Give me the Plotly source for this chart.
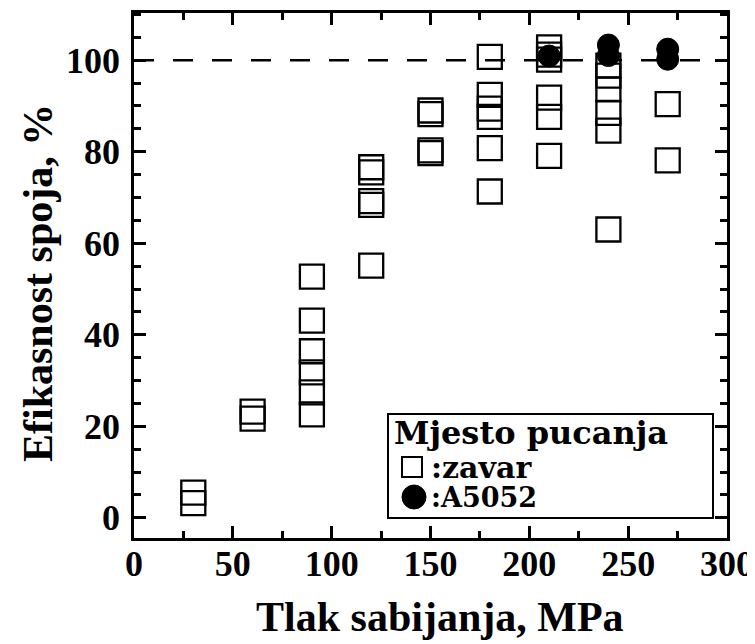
import plotly.graph_objects as go

# ---- data ----
zavar_x = [30, 30,
           60, 60,
           90, 90, 90, 90, 90, 90,
           120, 120, 120, 120, 120,
           150, 150, 150, 150,
           180, 180, 180, 180, 180, 180,
           210, 210, 210, 210, 210, 210,
           240, 240, 240, 240, 240, 240,
           270, 270]
zavar_y = [5.5, 3.2,
           23.2, 21.7,
           52.7, 43.1, 36.4, 31.8, 27.4, 22.6,
           76.6, 75.5, 69.2, 68.4, 55.1,
           89.0, 88.2, 80.3, 79.7,
           100.7, 92.4, 89.4, 87.6, 80.8, 71.3,
           102.8, 101.2, 100.1, 91.8, 87.6, 79.1,
           98.8, 96.6, 93.6, 88.5, 84.6, 63.0,
           90.4, 78.1]

a5052_x = [210, 240, 240, 270, 270]
a5052_y = [100.9, 103.3, 101.0, 102.4, 100.2]

reference_level = 100
x_tick_vals = [0, 50, 100, 150, 200, 250, 300]
y_tick_vals = [0, 20, 40, 60, 80, 100]

x_title = "Tlak sabijanja, MPa"
y_title = "Efikasnost spoja, %"
legend_title = "Mjesto pucanja"
legend_labels = [":zavar", ":A5052"]

FONT = "Liberation Serif, Times New Roman, serif"
LEG_FONT = "DejaVu Serif, serif"

# page body has an 8px margin; figure runs to the window edge
OFF = 8
W, H = 755 - OFF, 644 - OFF
# target plot area in window pixels: left 134, right 727, top 13, bottom 538
ML = 134 - OFF
MT = 13 - OFF
MR = W - (727 - OFF)
MB = H - (538 - OFF)
PW, PH = W - ML - MR, H - MT - MB


def px(x):
    """window pixel x -> paper coordinate"""
    return (x - OFF - ML) / PW


def py(y):
    """window pixel y -> paper coordinate"""
    return (H - MB - (y - OFF)) / PH


fig = go.Figure()

fig.add_trace(go.Scatter(
    x=zavar_x, y=zavar_y, mode="markers", name=legend_labels[0],
    marker=dict(symbol="square-open", size=24, color="black",
                line=dict(width=2.3, color="black")),
))
fig.add_trace(go.Scatter(
    x=a5052_x, y=a5052_y, mode="markers", name=legend_labels[1],
    marker=dict(symbol="circle", size=22, color="black",
                line=dict(width=1, color="black")),
))

fig.add_shape(type="line", xref="x domain", yref="y",
              x0=0, x1=1, y0=reference_level, y1=reference_level,
              line=dict(color="black", width=2.5, dash="20px,19px"),
              layer="below")

# legend box
fig.add_shape(type="rect", xref="paper", yref="paper",
              x0=px(388), x1=px(713), y0=py(518), y1=py(414),
              line=dict(color="black", width=2), fillcolor="white", layer="above")
# legend symbols
fig.add_shape(type="rect", xref="paper", yref="paper",
              x0=px(402), x1=px(422), y0=py(477), y1=py(457),
              line=dict(color="black", width=2), fillcolor="white", layer="above")
fig.add_shape(type="circle", xref="paper", yref="paper",
              x0=px(402), x1=px(426), y0=py(509), y1=py(485),
              line=dict(color="black", width=1), fillcolor="black", layer="above")

fig.add_annotation(text=legend_title, xref="paper", yref="paper",
                   x=px(392), y=py(433), xanchor="left", yanchor="middle",
                   showarrow=False,
                   font=dict(family=LEG_FONT, size=32, color="black", weight="bold"))
fig.add_annotation(text=legend_labels[0], xref="paper", yref="paper",
                   x=px(429), y=py(467), xanchor="left", yanchor="middle",
                   showarrow=False,
                   font=dict(family=LEG_FONT, size=30, color="black", weight="bold"))
fig.add_annotation(text=legend_labels[1], xref="paper", yref="paper",
                   x=px(429), y=py(497), xanchor="left", yanchor="middle",
                   showarrow=False,
                   font=dict(family=LEG_FONT, size=27, color="black", weight="bold"))

# axis titles
fig.add_annotation(text=x_title, xref="paper", yref="paper",
                   x=px(440), y=py(617), xanchor="center", yanchor="middle",
                   showarrow=False,
                   font=dict(family=FONT, size=42, color="black", weight="bold"))
fig.add_annotation(text=y_title, xref="paper", yref="paper", textangle=-90,
                   x=px(38), y=py(283), xanchor="center", yanchor="middle",
                   showarrow=False,
                   font=dict(family=FONT, size=42, color="black", weight="bold"))

axis_common = dict(
    showgrid=False, zeroline=False, automargin=False,
    showline=True, linecolor="black", linewidth=2.5, mirror="ticks",
    ticks="inside", ticklen=12, tickwidth=2.5, tickcolor="black",
    ticklabeloverflow="allow",
    tickfont=dict(family=FONT, size=36, color="black", weight="bold"),
)

fig.update_xaxes(
    range=[0, 300], tickvals=x_tick_vals, ticklabelstandoff=-8,
    minor=dict(dtick=25, ticks="inside", ticklen=7, tickwidth=2.5, tickcolor="black"),
    **axis_common,
)
fig.update_yaxes(
    range=[-4.4, 110.3], tickvals=y_tick_vals, ticklabelstandoff=4,
    minor=dict(dtick=5, ticks="inside", ticklen=7, tickwidth=2.5, tickcolor="black"),
    **axis_common,
)

fig.update_layout(
    width=W, height=H,
    margin=dict(l=ML, r=MR, t=MT, b=MB),
    plot_bgcolor="white", paper_bgcolor="white",
    showlegend=False,
)

fig.write_html("out.html")
